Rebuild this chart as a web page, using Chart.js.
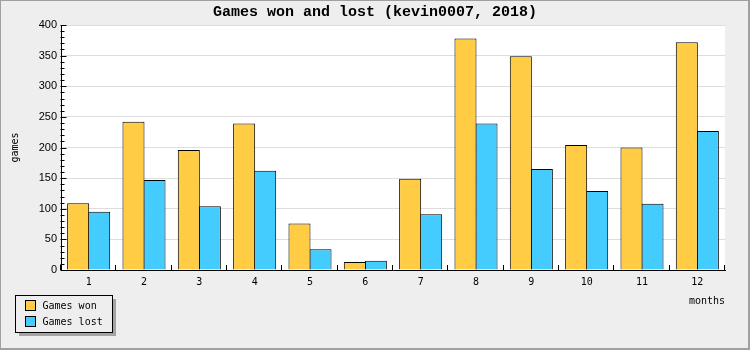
<!DOCTYPE html>
<html>
<head>
<meta charset="utf-8">
<script src="https://cdn.jsdelivr.net/npm/chart.js@4.4.1/dist/chart.umd.min.js"></script>
<style>
  html, body { margin: 0; padding: 0; background: #eeeeee; }
  #wrap { width: 750px; height: 350px; }
</style>
</head>
<body>
<div id="wrap"><canvas id="chart" width="750" height="350"></canvas></div>
<script>
// Monthly results
const chartTitle = 'Games won and lost (kevin0007, 2018)';
const months = ['1', '2', '3', '4', '5', '6', '7', '8', '9', '10', '11', '12'];
const gamesWon = [109, 242, 196, 239, 76, 13, 149, 378, 349, 204, 200, 372];
const gamesLost = [95, 147, 104, 162, 34, 15, 91, 239, 165, 129, 108, 227];
const yTickValues = [0, 50, 100, 150, 200, 250, 300, 350, 400];
const yMinorStep = 10;

const MONO = "'DejaVu Sans Mono', 'Liberation Mono', monospace";

// Page frame, grey background, white plot area and the centred title
const framePlugin = {
  id: 'frame',
  beforeDraw(chart) {
    const { ctx, width, height, chartArea: a } = chart;
    ctx.save();
    ctx.fillStyle = '#a0a0a0';
    ctx.fillRect(0, 0, width, height);
    ctx.fillStyle = '#eeeeee';
    ctx.fillRect(1, 1, width - 3, height - 3);
    ctx.fillStyle = '#ffffff';
    ctx.fillRect(a.left, a.top, a.right - a.left, a.bottom - a.top);
    ctx.fillStyle = '#000';
    ctx.font = "bold 15px 'Liberation Mono', monospace";
    ctx.textAlign = 'center';
    ctx.textBaseline = 'middle';
    ctx.fillText(chartTitle, width / 2, 12.5);
    ctx.restore();
  }
};

// Inward tick marks on both axes
const innerTicksPlugin = {
  id: 'innerTicks',
  afterDraw(chart) {
    const { ctx } = chart;
    const x = chart.scales.x, y = chart.scales.y;
    ctx.save();
    ctx.strokeStyle = '#000';
    ctx.lineWidth = 1;
    ctx.beginPath();
    const left = Math.round(y.right) + 0.5;
    for (let v = y.min; v <= y.max; v += yMinorStep) {
      const py = Math.round(y.getPixelForValue(v)) + 0.5;
      const len = (yTickValues.includes(v)) ? 5 : 3;
      ctx.moveTo(left - 1, py);
      ctx.lineTo(left + len, py);
    }
    const bottom = Math.round(x.top);
    for (let i = 0; i <= months.length; i++) {
      const px = Math.round(x.getPixelForValue(i - 0.5)) - 0.5;
      ctx.moveTo(px, bottom);
      ctx.lineTo(px, bottom - 5);
    }
    ctx.stroke();
    ctx.restore();
  }
};

// Boxed legend with drop shadow in the lower-left corner
const boxLegendPlugin = {
  id: 'boxLegend',
  afterDraw(chart) {
    const { ctx } = chart;
    const bx = 15.5, by = 295.5, bw = 97, bh = 37;
    ctx.save();
    ctx.fillStyle = '#a4a4a4';
    ctx.fillRect(bx + 3.5, by + 3.5, bw, bh);
    ctx.fillStyle = '#eeeeee';
    ctx.fillRect(bx, by, bw, bh);
    ctx.strokeStyle = '#000';
    ctx.lineWidth = 1;
    ctx.strokeRect(bx, by, bw, bh);
    ctx.font = '10px ' + MONO;
    ctx.textBaseline = 'middle';
    ctx.textAlign = 'left';
    chart.data.datasets.forEach((ds, i) => {
      const ry = by + 5 + i * 16;
      ctx.fillStyle = ds.backgroundColor;
      ctx.fillRect(bx + 10, ry, 10, 10);
      ctx.strokeRect(bx + 10, ry, 10, 10);
      ctx.fillStyle = '#000';
      ctx.fillText(ds.label, bx + 27, ry + 5.5);
    });
    ctx.restore();
  }
};

new Chart(document.getElementById('chart'), {
  type: 'bar',
  data: {
    labels: months,
    datasets: [
      { label: 'Games won', data: gamesWon, backgroundColor: '#ffcc44', borderColor: '#000', borderWidth: 1 },
      { label: 'Games lost', data: gamesLost, backgroundColor: '#44ccff', borderColor: '#000', borderWidth: 1 }
    ]
  },
  options: {
    responsive: false,
    animation: false,
    devicePixelRatio: 1,
    layout: { padding: { left: 0, right: 25, top: 25, bottom: 0 } },
    datasets: { bar: { categoryPercentage: 0.76, barPercentage: 22 / 21, inflateAmount: 0 } },
    plugins: {
      legend: { display: false },
      tooltip: { enabled: false },
      title: { display: false }
    },
    scales: {
      x: {
        grid: { display: false, drawTicks: false },
        border: { display: true, color: '#000', width: 1 },
        ticks: { color: '#000', font: { family: MONO, size: 10 }, padding: 6 },
        title: {
          display: true, text: 'months', align: 'end', color: '#000',
          font: { family: MONO, size: 10 }, padding: { top: 0, bottom: 43 }
        },
        afterFit(scale) { scale.height = 80; }
      },
      y: {
        min: 0, max: 400,
        afterBuildTicks(scale) { scale.ticks = yTickValues.map(v => ({ value: v })); },
        grid: { color: '#dddddd', drawTicks: false },
        border: { display: true, color: '#000', width: 1 },
        ticks: { color: '#000', font: { family: "'Liberation Sans', sans-serif", size: 11 }, padding: 4 },
        title: {
          display: true, text: 'games', color: '#000',
          font: { family: MONO, size: 10 }, padding: { top: 9, bottom: 0 }
        },
        afterFit(scale) { scale.width = 61; }
      }
    }
  },
  plugins: [framePlugin, innerTicksPlugin, boxLegendPlugin]
});
</script>
</body>
</html>
